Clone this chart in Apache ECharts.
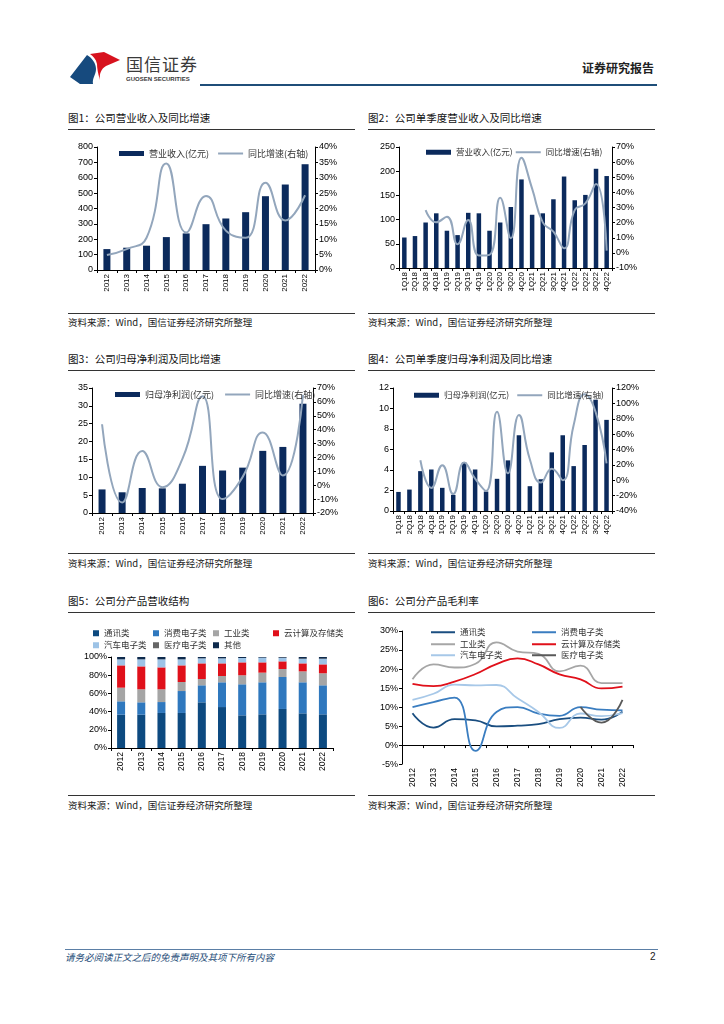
<!DOCTYPE html>
<html><head><meta charset="utf-8">
<script src="https://cdn.jsdelivr.net/npm/echarts@6/dist/echarts.min.js"></script>
<style>
body{margin:0;background:#fff;}
#page{position:relative;width:724px;height:1024px;overflow:hidden;font-family:'Noto Sans CJK SC','Noto Sans',sans-serif;color:#000;}
.title{position:absolute;font-size:10.5px;line-height:12px;white-space:nowrap;color:#111;}
.rule{position:absolute;height:0;border-top:1px solid #333;}
.src{position:absolute;font-size:9.5px;line-height:11px;white-space:nowrap;color:#222;}
.chart{position:absolute;}
</style></head>
<body>
<div id="page">
  <svg style="position:absolute;left:0;top:0" width="724" height="100">
    <path d="M70,77 L87,55 C92,58 96,63 96,69 C96,75 92,78 93,84 L80,84 Z" fill="#164a7e"/>
    <path d="M90,54 L104,52 L120,60 L106,66 C101,69 99,74 100,80 C98,74 97,68 97,64 C96,59 93,56 90,54 Z" fill="#d7121e"/>
    <rect x="200" y="84" width="457" height="2" fill="#1f4e79"/>
  </svg>
  <div style="position:absolute;left:126px;top:54px;font-size:17px;line-height:20px;color:#3a3a3a;letter-spacing:1px;">国信证券</div>
  <div style="position:absolute;left:126px;top:76px;font-size:6px;line-height:7px;color:#3a3a3a;font-weight:bold;font-family:'Liberation Sans',Arial,sans-serif;">GUOSEN SECURITIES</div>
  <div style="position:absolute;left:582px;top:61px;font-size:12px;line-height:14px;color:#222;font-weight:bold;">证券研究报告</div>

  <div class="title" style="left:68px;top:112px;">图1：公司营业收入及同比增速</div>
  <div class="rule" style="left:68px;top:129px;width:287px;"></div>
  <div class="title" style="left:368px;top:112px;">图2：公司单季度营业收入及同比增速</div>
  <div class="rule" style="left:368px;top:129px;width:287px;"></div>
  <div class="rule" style="left:68px;top:313px;width:287px;"></div>
  <div class="src" style="left:68px;top:317px;">资料来源：Wind，国信证券经济研究所整理</div>
  <div class="rule" style="left:368px;top:313px;width:287px;"></div>
  <div class="src" style="left:368px;top:317px;">资料来源：Wind，国信证券经济研究所整理</div>

  <div class="title" style="left:68px;top:353px;">图3：公司归母净利润及同比增速</div>
  <div class="rule" style="left:68px;top:370px;width:287px;"></div>
  <div class="title" style="left:368px;top:353px;">图4：公司单季度归母净利润及同比增速</div>
  <div class="rule" style="left:368px;top:370px;width:287px;"></div>
  <div class="rule" style="left:68px;top:553px;width:287px;"></div>
  <div class="src" style="left:68px;top:558px;">资料来源：Wind，国信证券经济研究所整理</div>
  <div class="rule" style="left:368px;top:553px;width:287px;"></div>
  <div class="src" style="left:368px;top:558px;">资料来源：Wind，国信证券经济研究所整理</div>

  <div class="title" style="left:68px;top:595px;">图5：公司分产品营收结构</div>
  <div class="rule" style="left:68px;top:612px;width:287px;"></div>
  <div class="title" style="left:368px;top:595px;">图6：公司分产品毛利率</div>
  <div class="rule" style="left:368px;top:612px;width:287px;"></div>
  <div class="rule" style="left:68px;top:795px;width:287px;"></div>
  <div class="src" style="left:68px;top:800px;">资料来源：Wind，国信证券经济研究所整理</div>
  <div class="rule" style="left:368px;top:795px;width:287px;"></div>
  <div class="src" style="left:368px;top:800px;">资料来源：Wind，国信证券经济研究所整理</div>

  <div class="rule" style="left:65px;top:949px;width:593px;border-top:1px solid #5b7fa6;"></div>
  <div style="position:absolute;left:65px;top:951px;font-size:9.5px;line-height:12px;font-style:italic;color:#1f4e79;">请务必阅读正文之后的免责声明及其项下所有内容</div>
  <div style="position:absolute;left:650px;top:951px;font-size:10px;line-height:12px;color:#222;font-family:'Liberation Sans',Arial,sans-serif;">2</div>

  <div id="c1" class="chart" style="left:60px;top:135px;width:300px;height:170px;"></div>
  <div id="c2" class="chart" style="left:360px;top:135px;width:320px;height:170px;"></div>
  <div id="c3" class="chart" style="left:60px;top:375px;width:300px;height:170px;"></div>
  <div id="c4" class="chart" style="left:360px;top:375px;width:320px;height:170px;"></div>
  <div id="c5" class="chart" style="left:60px;top:615px;width:300px;height:175px;"></div>
  <div id="c6" class="chart" style="left:360px;top:615px;width:320px;height:175px;"></div>
</div>
<script>
// ---------- data ----------
const years = ['2012','2013','2014','2015','2016','2017','2018','2019','2020','2021','2022'];
const quarters = ['1Q18','2Q18','3Q18','4Q18','1Q19','2Q19','3Q19','4Q19','1Q20','2Q20','3Q20','4Q20','1Q21','2Q21','3Q21','4Q21','1Q22','2Q22','3Q22','4Q22'];

const revenue = [136,145,158,214,238,298,335,376,480,556,688];
const revenueGrowth = [4.9,6.8,10.5,34.6,12.2,24.1,12.8,10.5,28.4,16.1,24.3];

const qRevenue = [63,66,94,113,77,68,114,113,77,94,126,183,110,113,142,189,140,151,205,190];
const qRevenueGrowth = [null,null,28.3,20.2,23.9,5.7,21.7,-1.8,-1.3,36.4,9.6,62.9,42.5,20.2,14.0,3.1,28.3,32.7,45.6,1.5];

const netProfit = [6.6,5.8,7.0,6.9,8.2,13.2,11.9,12.7,17.4,18.5,30.6];
const netProfitGrowth = [43.9,-12.5,24.6,-1.4,19.0,64.0,-10.0,6.0,38.0,7.0,65.0];

const qNetProfit = [1.86,2.09,3.89,4.05,2.26,1.57,4.74,4.05,1.90,3.14,4.94,7.39,2.42,3.10,5.72,7.39,4.38,6.44,10.86,8.89];
const qNetProfitGrowth = [null,null,26,-10,19.6,-18,23,2,-14,89,9,85,27,-3,15,0,72,112,89,22];

const productNames = ['通讯类','消费电子类','工业类','云计算及存储类','汽车电子类','医疗电子类','其他'];
const mixComm = [36.6,36.6,38.5,38.5,50.2,45.0,35.9,37.0,42.9,38.1,37.0];
const mixConsumer = [14.7,13.6,12.0,24.1,18.7,27.2,34.1,35.2,35.1,34.1,31.9];
const mixIndustrial = [15.0,14.3,14.0,9.9,6.9,6.9,9.9,10.6,8.8,12.0,13.2];
const mixCloud = [24.5,25.2,24.1,18.3,17.2,13.9,14.2,11.3,8.4,8.8,9.8];
const mixAuto = [6.6,7.7,8.8,6.6,5.5,5.5,4.8,5.2,3.7,4.8,5.9];
const mixMedical = [0,0,0,0,0,0,0,0,0.4,0.4,0.4];
const mixOther = [2.6,2.6,2.6,2.6,1.5,1.5,1.1,0.7,0.7,1.8,1.8];

const gmComm = [8.4,4.6,6.8,6.5,4.9,5.1,5.5,6.8,7.2,6.7,8.8];
const gmConsumer = [10.0,11.3,12.5,-1.5,8.7,10.0,8.3,7.7,10.0,9.3,9.1];
const gmIndustrial = [17.3,21.2,20.4,21.4,27.0,24.6,24.0,19.4,20.9,16.3,16.3];
const gmCloud = [16.1,15.5,16.7,18.7,21.3,22.8,21.2,18.6,17.3,14.9,15.4];
const gmAuto = [11.9,13.5,15.9,15.7,15.8,12.3,8.7,4.5,8.3,7.6,8.4];
const gmMedical = [null,null,null,null,null,null,null,null,10.0,5.9,11.9];

// ---------- styles ----------
const BAR = '#0b2a5c';
const LINE = '#93a6bc';
const NUMFONT = 'Liberation Sans, Arial, sans-serif';
const CJK = 'Noto Sans CJK SC, sans-serif';
const LINE_ICON = 'path://M0,0L25,0L25,2L0,2Z';

function axisBase(extra) {
  return Object.assign({
    axisLine: {show: true, onZero: false, lineStyle: {color: '#000', width: 1}},
    axisTick: {show: true, length: 3, lineStyle: {color: '#000'}},
    splitLine: {show: false},
    axisLabel: {color: '#000', fontSize: 9, fontFamily: NUMFONT, margin: 4}
  }, extra);
}

function dualOpt(c) {
  return {
    animation: false,
    grid: c.grid,
    legend: {
      left: c.legendLeft, top: c.legendTop, itemWidth: 25, itemHeight: 5, itemGap: c.legendGap,
      textStyle: {fontSize: c.legendFont, color: '#333', fontFamily: CJK},
      data: [{name: c.barName, icon: 'rect'}, {name: c.lineName, icon: LINE_ICON}]
    },
    xAxis: axisBase({
      type: 'category', data: c.cats,
      axisLabel: {color: '#000', fontSize: c.xFont, fontFamily: NUMFONT, rotate: 90, interval: 0, margin: 4}
    }),
    yAxis: [
      axisBase({type: 'value', min: c.lMin, max: c.lMax, interval: c.lInt}),
      axisBase({type: 'value', position: 'right', min: c.rMin, max: c.rMax, interval: c.rInt,
        axisLabel: {color: '#000', fontSize: 9, fontFamily: NUMFONT, margin: 4, formatter: '{value}%'}})
    ],
    series: [
      {name: c.barName, type: 'bar', data: c.bars, barWidth: c.barWidth, itemStyle: {color: BAR}},
      {name: c.lineName, type: 'line', yAxisIndex: 1, data: c.line, smooth: true, symbol: 'none',
        connectNulls: false, lineStyle: {color: LINE, width: 2}, itemStyle: {color: LINE}}
    ]
  };
}

echarts.init(document.getElementById('c1')).setOption(dualOpt({
  grid: {left: 37, right: 45, top: 12, height: 123},
  legendLeft: 54, legendTop: 9, legendGap: 9, legendFont: 9,
  barName: '营业收入(亿元)', lineName: '同比增速(右轴)',
  cats: years, xFont: 8, bars: revenue, line: revenueGrowth, barWidth: 7,
  lMin: 0, lMax: 800, lInt: 100, rMin: 0, rMax: 40, rInt: 5
}));

echarts.init(document.getElementById('c2')).setOption(dualOpt({
  grid: {left: 39, right: 68, top: 12, height: 121},
  legendLeft: 61, legendTop: 8, legendGap: 3, legendFont: 8.5,
  barName: '营业收入(亿元)', lineName: '同比增速(右轴)',
  cats: quarters, xFont: 8, bars: qRevenue, line: qRevenueGrowth, barWidth: 4.5,
  lMin: 0, lMax: 250, lInt: 50, rMin: -10, rMax: 70, rInt: 10
}));

echarts.init(document.getElementById('c3')).setOption(dualOpt({
  grid: {left: 32, right: 47, top: 13, height: 125},
  legendLeft: 50, legendTop: 10, legendGap: 11, legendFont: 9,
  barName: '归母净利润(亿元)', lineName: '同比增速(右轴)',
  cats: years, xFont: 8, bars: netProfit, line: netProfitGrowth, barWidth: 7,
  lMin: 0, lMax: 35, lInt: 5, rMin: -20, rMax: 70, rInt: 10
}));

echarts.init(document.getElementById('c4')).setOption(dualOpt({
  grid: {left: 33, right: 68, top: 13, height: 123},
  legendLeft: 49, legendTop: 11, legendGap: 8, legendFont: 8.5,
  barName: '归母净利润(亿元)', lineName: '同比增速(右轴)',
  cats: quarters, xFont: 8, bars: qNetProfit, line: qNetProfitGrowth, barWidth: 4.5,
  lMin: 0, lMax: 12, lInt: 2, rMin: -40, rMax: 120, rInt: 20
}));

// ---------- chart 5 ----------
const mixColors = ['#0d4a80','#2f78be','#a5a5a5','#e0101a','#9dc3e6','#666666','#0e2a4c'];
const mixData = [mixComm, mixConsumer, mixIndustrial, mixCloud, mixAuto, mixMedical, mixOther];
const mixLegendPos = [[28,9],[88,9],[148,9],[208,9],[28,21],[88,21],[148,21]];
echarts.init(document.getElementById('c5')).setOption({
  animation: false,
  grid: {left: 51, right: 27, top: 42, height: 91},
  legend: productNames.map((n, i) => ({
    data: [{name: n, icon: 'rect'}], left: mixLegendPos[i][0], top: mixLegendPos[i][1], itemWidth: 6, itemHeight: 6,
    textStyle: {fontSize: 8.5, color: '#333', fontFamily: CJK}
  })),
  xAxis: axisBase({type: 'category', data: years,
    axisLabel: {color: '#000', fontSize: 8.5, fontFamily: NUMFONT, rotate: 90, interval: 0, margin: 4}}),
  yAxis: axisBase({type: 'value', min: 0, max: 100, interval: 20,
    axisLabel: {color: '#000', fontSize: 9, fontFamily: NUMFONT, margin: 4, formatter: '{value}%'}}),
  series: productNames.map((n, i) => ({
    name: n, type: 'bar', stack: 'mix', data: mixData[i], barWidth: 8,
    itemStyle: {color: mixColors[i]}
  }))
});

// ---------- chart 6 ----------
const gmNames = ['通讯类','消费电子类','工业类','云计算及存储类','汽车电子类','医疗电子类'];
const gmColors = ['#1a4e80','#3a7dc0','#a6a6a6','#e0101a','#a7c8e8','#595959'];
const gmData = [gmComm, gmConsumer, gmIndustrial, gmCloud, gmAuto, gmMedical];
const gmLegendPos = [[66,8],[167,8],[66,20],[167,20],[66,31],[167,31]];
echarts.init(document.getElementById('c6')).setOption({
  animation: false,
  grid: {left: 42, right: 47, top: 16, height: 145},
  legend: gmNames.map((n, i) => ({
    data: [{name: n, icon: 'path://M0,0L24,0L24,2L0,2Z'}], left: gmLegendPos[i][0], top: gmLegendPos[i][1],
    itemWidth: 24, itemHeight: 6,
    textStyle: {fontSize: 8.5, color: '#333', fontFamily: CJK}
  })),
  xAxis: {
    type: 'category', data: years,
    axisLine: {show: true, onZero: true, lineStyle: {color: '#000'}},
    axisTick: {show: true, length: 3, lineStyle: {color: '#000'}},
    axisLabel: {color: '#000', fontSize: 8.5, fontFamily: NUMFONT, rotate: 90, interval: 0, margin: 4},
    splitLine: {show: false}
  },
  yAxis: axisBase({type: 'value', min: -5, max: 30, interval: 5,
    axisLabel: {color: '#000', fontSize: 9, fontFamily: NUMFONT, margin: 4, formatter: '{value}%'}}),
  series: gmNames.map((n, i) => ({
    name: n, type: 'line', data: gmData[i], smooth: true, symbol: 'none',
    lineStyle: {color: gmColors[i], width: 1.8}, itemStyle: {color: gmColors[i]}
  }))
});
</script>
</body></html>
